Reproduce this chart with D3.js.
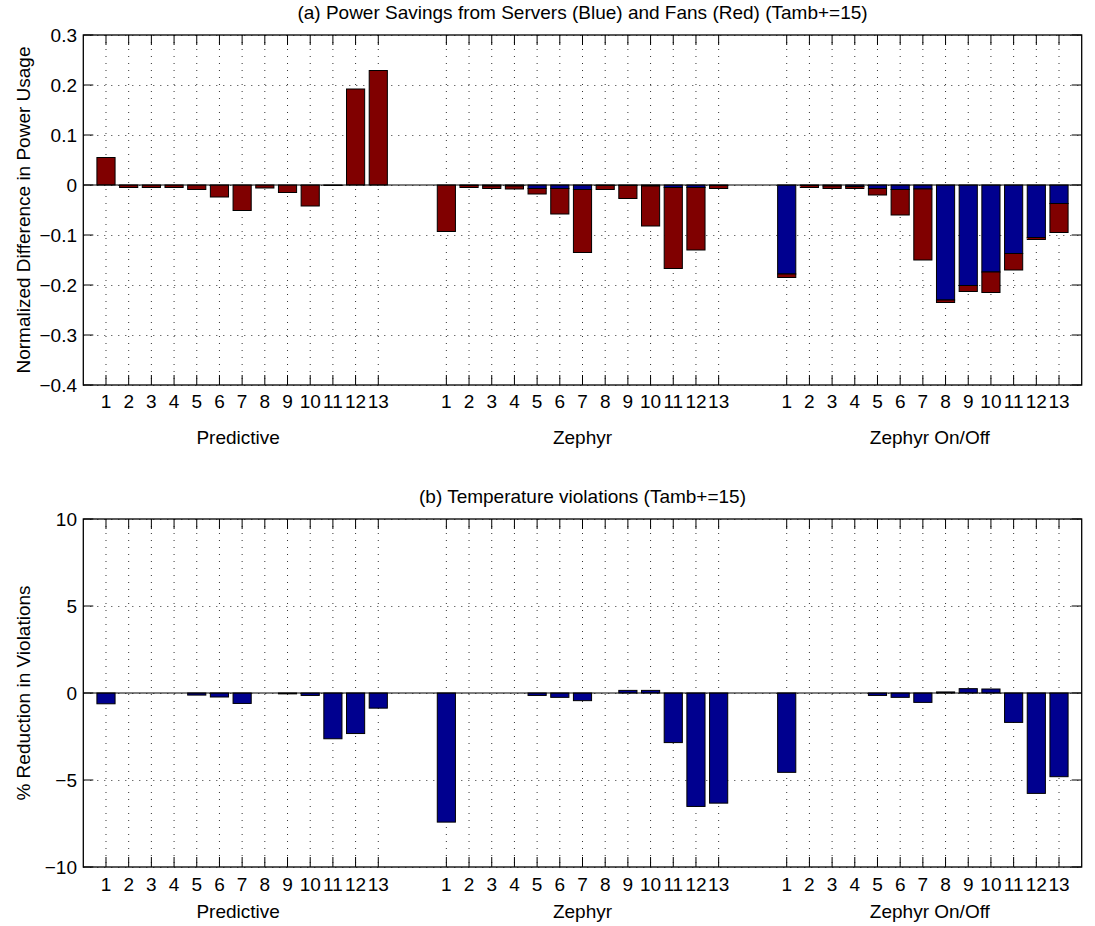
<!DOCTYPE html>
<html><head><meta charset="utf-8">
<script src="https://cdn.jsdelivr.net/npm/d3@7"></script>
<style>body{margin:0;background:#fff}svg{display:block}text{font-family:"Liberation Sans",Arial,Helvetica,sans-serif;fill:#000}</style>
</head><body>
<svg id="c" width="1095" height="926"></svg>
<script>
// ---- data ----
const groups = ["Predictive", "Zephyr", "Zephyr On/Off"];
const categories = ["1","2","3","4","5","6","7","8","9","10","11","12","13"];
// (a) power savings: server part (blue) and fan part (red, stacked after server part)
const predictiveServers = [0,0,0,0,0,0,0,0,0,0,0,0,0];
const predictiveFans    = [0.055,-0.005,-0.005,-0.005,-0.009,-0.024,-0.051,-0.006,-0.015,-0.042,-0.001,0.192,0.229];
const zephyrServers     = [0,-0.001,-0.002,-0.002,-0.007,-0.007,-0.009,-0.001,-0.001,-0.002,-0.005,-0.005,-0.001];
const zephyrFans        = [-0.093,-0.004,-0.005,-0.006,-0.011,-0.051,-0.126,-0.008,-0.026,-0.080,-0.162,-0.125,-0.006];
const onoffServers      = [-0.178,-0.001,-0.002,-0.003,-0.007,-0.009,-0.008,-0.230,-0.201,-0.174,-0.137,-0.105,-0.037];
const onoffFans         = [-0.007,-0.004,-0.005,-0.004,-0.013,-0.051,-0.142,-0.005,-0.012,-0.041,-0.033,-0.004,-0.058];
// (b) temperature violations
const predictiveViolations = [-0.62,0,0,0,-0.12,-0.23,-0.60,0,-0.05,-0.14,-2.63,-2.33,-0.87];
const zephyrViolations     = [-7.42,0,0,0,-0.14,-0.25,-0.44,0,0.15,0.15,-2.85,-6.52,-6.33];
const onoffViolations      = [-4.56,0,0,0,-0.14,-0.25,-0.54,0.06,0.25,0.23,-1.69,-5.77,-4.81];
const yTicksA = [0.3,0.2,0.1,0,-0.1,-0.2,-0.3,-0.4];
const yTicksB = [10,5,0,-5,-10];
const titleA = "(a) Power Savings from Servers (Blue) and Fans (Red) (Tamb+=15)";
const titleB = "(b) Temperature violations (Tamb+=15)";
const yLabelA = "Normalized Difference in Power Usage";
const yLabelB = "% Reduction in Violations";

const BLUE = "#00008f", RED = "#800000";
const svg = d3.select("#c");
const FS = 19;

const x = d3.scaleLinear().domain([0, 44]).range([83.3, 1081.7]);
const pos = (g, i) => g * 15 + i + 1;
const xTickVals = [];
groups.forEach((g, gi) => categories.forEach((c, i) => xTickVals.push({v: pos(gi, i), label: c})));

const minus = v => String(v).replace("-", "\u2212");

function panel(top, bottom, yDomain, yTicks, title, ylabel, tickLabelDy, groupLabelY) {
  const y = d3.scaleLinear().domain(yDomain).range([bottom, top]);
  const g = svg.append("g");
  const L = x.range()[0], R = x.range()[1];
  // grid
  g.selectAll(".gx").data(xTickVals).join("line")
    .attr("x1", d => x(d.v)).attr("x2", d => x(d.v)).attr("y1", top).attr("y2", bottom)
    .attr("stroke", "#333").attr("stroke-width", 1).attr("stroke-dasharray", "1,6");
  g.selectAll(".gy").data(yTicks).join("line")
    .attr("x1", L).attr("x2", R).attr("y1", d => Math.round(y(d)) + 0.5).attr("y2", d => Math.round(y(d)) + 0.5)
    .attr("stroke", "#333").attr("stroke-width", 1).attr("stroke-dasharray", "1,6");
  // title
  g.append("text").attr("x", (L + R) / 2).attr("y", top - 16).attr("text-anchor", "middle")
    .attr("font-size", FS).text(title);
  // y label
  g.append("text").attr("transform", `translate(30,${(top + bottom) / 2}) rotate(-90)`)
    .attr("text-anchor", "middle").attr("font-size", FS).text(ylabel);
  // y tick labels
  g.selectAll(".yl").data(yTicks).join("text")
    .attr("x", 77).attr("y", d => y(d)).attr("dy", "0.35em").attr("text-anchor", "end")
    .attr("font-size", FS).text(d => minus(d));
  // x tick labels
  g.selectAll(".xl").data(xTickVals).join("text")
    .attr("x", d => x(d.v)).attr("y", bottom + tickLabelDy).attr("dy", "0.35em").attr("text-anchor", "middle")
    .attr("font-size", FS).text(d => d.label);
  // group labels
  const gOff = [-4, 0, 7];
  g.selectAll(".grl").data(groups).join("text")
    .attr("x", (d, i) => x(pos(i, 6)) + gOff[i]).attr("y", groupLabelY).attr("dy", "0.35em")
    .attr("text-anchor", "middle").attr("font-size", FS).text(d => d);
  return {g, y, L, R, top, bottom};
}

function frame(p) {
  const {g, L, R, top, bottom, y} = p;
  const tl = 10;
  g.selectAll(".tx").data(xTickVals).join("path")
    .attr("d", d => `M${x(d.v)},${top}v${tl}M${x(d.v)},${bottom}v${-tl}`)
    .attr("stroke", "#000").attr("stroke-width", 1).attr("fill", "none");
  g.selectAll(".ty").data(p.yTicks).join("path")
    .attr("d", d => `M${L},${y(d)}h${tl}M${R},${y(d)}h${-tl}`)
    .attr("stroke", "#000").attr("stroke-width", 1).attr("fill", "none");
  g.append("rect").attr("x", L).attr("y", top).attr("width", R - L).attr("height", bottom - top)
    .attr("fill", "none").attr("stroke", "#000").attr("stroke-width", 1.3);
}

const bw = (x(1) - x(0)) * 0.8;

// ---- panel (a) ----
const pa = panel(35, 385, [-0.4, 0.3], yTicksA, titleA, yLabelA, 16, 437);
pa.yTicks = yTicksA;
const serversAll = [predictiveServers, zephyrServers, onoffServers];
const fansAll = [predictiveFans, zephyrFans, onoffFans];
const stackA = [];
groups.forEach((gname, gi) => categories.forEach((c, i) => {
  const s = serversAll[gi][i], f = fansAll[gi][i];
  stackA.push({v: pos(gi, i), s0: 0, s1: s, f0: s, f1: s + f});
}));
pa.g.selectAll(".bs").data(stackA).join("rect")
  .attr("x", d => x(d.v) - bw / 2).attr("width", bw)
  .attr("y", d => pa.y(Math.max(d.s0, d.s1))).attr("height", d => Math.abs(pa.y(d.s0) - pa.y(d.s1)))
  .attr("fill", BLUE).attr("stroke", "#000").attr("stroke-width", 1);
pa.g.selectAll(".bf").data(stackA).join("rect")
  .attr("x", d => x(d.v) - bw / 2).attr("width", bw)
  .attr("y", d => pa.y(Math.max(d.f0, d.f1))).attr("height", d => Math.abs(pa.y(d.f0) - pa.y(d.f1)))
  .attr("fill", RED).attr("stroke", "#000").attr("stroke-width", 1);
pa.g.append("line").attr("x1", pa.L).attr("x2", pa.R).attr("y1", pa.y(0)).attr("y2", pa.y(0))
  .attr("stroke", "#000").attr("stroke-width", 1.2);
frame(pa);

// ---- panel (b) ----
const pb = panel(519, 867, [-10, 10], yTicksB, titleB, yLabelB, 17, 911);
pb.yTicks = yTicksB;
const violAll = [predictiveViolations, zephyrViolations, onoffViolations];
const barsB = [];
groups.forEach((gname, gi) => categories.forEach((c, i) => barsB.push({v: pos(gi, i), val: violAll[gi][i]})));
pb.g.selectAll(".bv").data(barsB).join("rect")
  .attr("x", d => x(d.v) - bw / 2).attr("width", bw)
  .attr("y", d => pb.y(Math.max(0, d.val))).attr("height", d => Math.abs(pb.y(0) - pb.y(d.val)))
  .attr("fill", BLUE).attr("stroke", "#000").attr("stroke-width", 1);
pb.g.append("line").attr("x1", pb.L).attr("x2", pb.R).attr("y1", pb.y(0)).attr("y2", pb.y(0))
  .attr("stroke", "#000").attr("stroke-width", 1.2);
frame(pb);
</script>
</body></html>
